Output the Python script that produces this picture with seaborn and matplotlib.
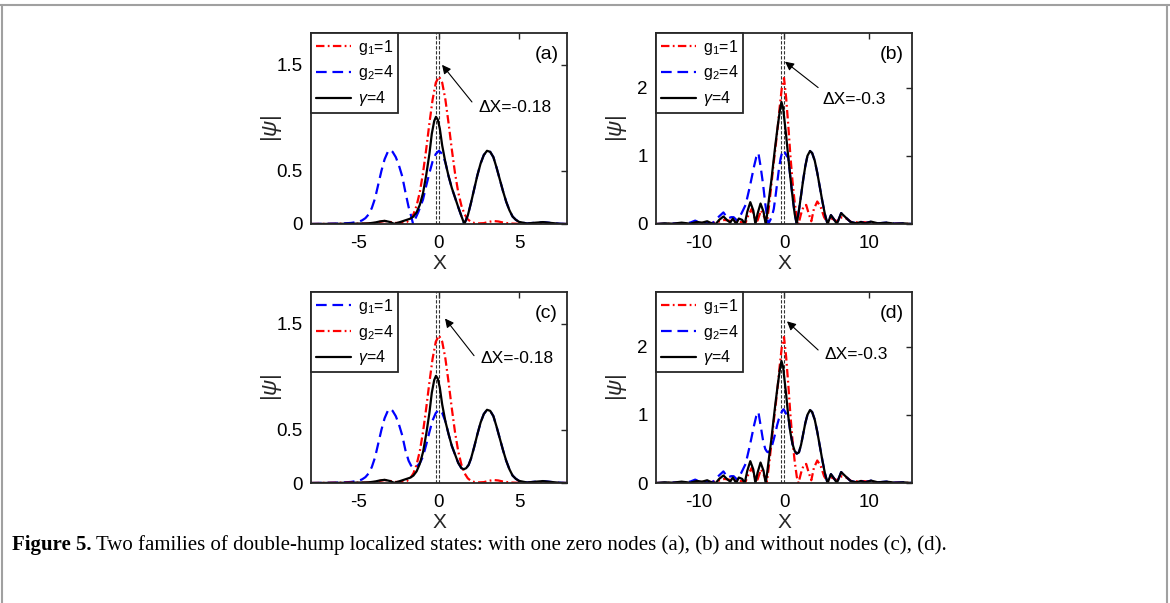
import matplotlib

matplotlib.use("Agg")
import matplotlib.pyplot as plt
import numpy as np
import seaborn as sns
from matplotlib.lines import Line2D

# ---- panel (a): one zero node, narrow window ----
a_red_x = [-8, -6.5, -5.5, -4.6, -4.0, -3.7, -3.4, -3.1, -2.8, -2.5, -2.2, -2.0, -1.8, -1.6, -1.4,
           -1.2, -1.0, -0.8, -0.6, -0.4, -0.2, 0.0, 0.2, 0.4, 0.6, 0.8, 1.0, 1.2, 1.4, 1.6,
           1.8, 2.0, 2.2, 2.5, 2.8, 3.1, 3.4, 3.7, 4.0, 4.4, 5.0, 6.0, 7.0, 8.0]
a_red_y = [0, 0.002, 0.004, 0.003, 0.01, 0.02, 0.028, 0.022, 0.01, 0.01, 0.012, 0.02, 0.044, 0.091, 0.173,
           0.300, 0.480, 0.704, 0.948, 1.172, 1.332, 1.39, 1.332, 1.172, 0.948, 0.704, 0.480, 0.300, 0.173, 0.091,
           0.044, 0.020, 0.010, 0.006, 0.008, 0.02, 0.028, 0.024, 0.014, 0.005, 0.002, 0.002, 0.0, 0.0]

a_blk_x = [-8, -6.0, -5.0, -4.4, -4.0, -3.7, -3.4, -3.1, -2.8, -2.5, -2.2, -2.0, -1.8, -1.6, -1.4,
           -1.2, -1.0, -0.8, -0.6, -0.45, -0.3, -0.19, -0.08, 0.05, 0.2, 0.4, 0.6, 0.8, 1.0, 1.2,
           1.4, 1.58, 1.8, 2.0, 2.2, 2.4, 2.6, 2.8, 3.0, 3.2, 3.4, 3.6, 3.8, 4.0, 4.2,
           4.4, 4.6, 4.8, 5.0, 5.5, 6.0, 6.5, 7.0, 7.5, 8.0]
a_blk_y = [0, 0.002, 0.004, 0.006, 0.014, 0.024, 0.03, 0.02, 0.002, 0.015, 0.03, 0.04, 0.05, 0.07, 0.11,
           0.18, 0.29, 0.46, 0.66, 0.85, 0.97, 1.01, 0.985, 0.90, 0.74, 0.58, 0.45, 0.34, 0.25, 0.16,
           0.075, 0.0, 0.08, 0.2, 0.33, 0.46, 0.57, 0.65, 0.69, 0.68, 0.63, 0.53, 0.42, 0.31, 0.21,
           0.13, 0.07, 0.04, 0.02, 0.005, 0.012, 0.018, 0.01, 0.003, 0.0]

# blue runs on its own up to x=0.4, afterwards it lies under the black curve
a_blu_x = [-8, -7, -6, -5.5, -5.0, -4.8, -4.6, -4.4, -4.2, -4.0, -3.8, -3.6, -3.4, -3.2, -3.05,
           -2.9, -2.7, -2.5, -2.3, -2.1, -1.9, -1.75, -1.62, -1.45, -1.3, -1.15, -1.0, -0.8, -0.6, -0.4,
           -0.2, 0.0, 0.2, 0.4]
a_blu_y = [0, 0.002, 0.005, 0.01, 0.022, 0.035, 0.055, 0.09, 0.15, 0.24, 0.37, 0.50, 0.61, 0.68, 0.70,
           0.68, 0.63, 0.55, 0.45, 0.30, 0.16, 0.08, 0.0, 0.06, 0.11, 0.17, 0.23, 0.36, 0.48, 0.59,
           0.66, 0.69, 0.66, 0.58]

# ---- panel (c): no nodes, narrow window ----
c_red_x = a_red_x
c_red_y = a_red_y

c_blk_x = [-8, -6.0, -5.0, -4.4, -4.0, -3.7, -3.4, -3.1, -2.8, -2.5, -2.2, -2.0, -1.8, -1.6, -1.4,
           -1.2, -1.0, -0.8, -0.6, -0.45, -0.3, -0.19, -0.08, 0.05, 0.2, 0.4, 0.6, 0.8, 1.0, 1.2,
           1.4, 1.55, 1.7, 1.85, 2.0, 2.2, 2.4, 2.6, 2.8, 3.0, 3.2, 3.4, 3.6, 3.8, 4.0, 4.2,
           4.4, 4.6, 4.8, 5.0, 5.5, 6.0, 6.5, 7.0, 7.5, 8.0]
c_blk_y = [0, 0.002, 0.004, 0.006, 0.014, 0.024, 0.03, 0.02, 0.002, 0.015, 0.03, 0.04, 0.05, 0.07, 0.11,
           0.18, 0.29, 0.46, 0.66, 0.85, 0.97, 1.01, 0.985, 0.90, 0.74, 0.58, 0.46, 0.35, 0.27, 0.19,
           0.14, 0.13, 0.14, 0.17, 0.23, 0.34, 0.46, 0.57, 0.65, 0.69, 0.68, 0.63, 0.53, 0.42, 0.31, 0.21,
           0.13, 0.07, 0.04, 0.02, 0.005, 0.012, 0.018, 0.01, 0.003, 0.0]

c_blu_x = [-8, -7, -6, -5.5, -5.0, -4.8, -4.6, -4.4, -4.2, -4.0, -3.8, -3.6, -3.4, -3.2, -3.05,
           -2.9, -2.7, -2.5, -2.3, -2.1, -1.9, -1.75, -1.62, -1.45, -1.3, -1.15, -1.0, -0.8, -0.6, -0.4,
           -0.2, 0.0, 0.2, 0.4]
c_blu_y = [0, 0.002, 0.005, 0.01, 0.022, 0.035, 0.055, 0.09, 0.15, 0.24, 0.37, 0.50, 0.61, 0.68, 0.70,
           0.68, 0.63, 0.55, 0.45, 0.31, 0.21, 0.165, 0.145, 0.15, 0.17, 0.20, 0.25, 0.36, 0.48, 0.59,
           0.66, 0.69, 0.66, 0.58]

# ---- panel (b): one zero node, wide window ----
b_red_x = [-15, -12, -10, -9, -8, -7, -6, -5.2, -4.5, -4.2, -3.8, -3.4, -3.1, -2.7, -2.3,
           -2.0, -1.75, -1.5, -1.25, -1.0, -0.75, -0.5, -0.25, 0.0, 0.25, 0.5, 0.75, 1.0, 1.25, 1.5,
           1.7, 2.0, 2.3, 2.6, 2.9, 3.2, 3.5, 3.9, 4.3, 4.7, 5.1, 5.6, 6.2, 6.8, 7.3,
           8.0, 9.0, 10.0, 11.0, 12.0, 15.0]
b_red_y = [0, 0.005, 0.02, 0.01, 0.02, 0.06, 0.04, 0.03, 0.02, 0.12, 0.22, 0.08, 0.05, 0.2, 0.1,
           0.02, 0.27, 0.55, 0.85, 1.12, 1.40, 1.72, 2.0, 2.14, 1.85, 1.45, 1.0, 0.62, 0.32, 0.09,
           0.0, 0.15, 0.26, 0.28, 0.15, 0.04, 0.22, 0.33, 0.25, 0.1, 0.02, 0.08, 0.04, 0.1, 0.08,
           0.02, 0.03, 0.02, 0.01, 0.01, 0.0]

b_blk_x = [-15, -14, -13, -12, -11, -10.2, -9.6, -9.0, -8.5, -8.0, -7.6, -7.1, -6.7, -6.3, -6.0,
           -5.6, -5.3, -4.9, -4.6, -4.3, -3.95, -3.6, -3.35, -3.1, -2.75, -2.4, -2.15, -2.0, -1.75, -1.5,
           -1.25, -1.0, -0.75, -0.5, -0.3, -0.1, 0.0, 0.25, 0.5, 0.75, 1.0, 1.25, 1.49, 1.75, 2.0,
           2.25, 2.5, 2.75, 3.05, 3.3, 3.6, 3.9, 4.2, 4.5, 4.8, 5.1, 5.5, 5.85, 6.2, 6.7,
           7.2, 7.8, 8.5, 9.0, 9.5, 10.2, 11.0, 12.0, 13.0, 14.0, 15.0]
b_blk_y = [0, 0.01, 0.005, 0.02, 0.005, 0.03, 0.02, 0.04, 0.01, 0.0, 0.06, 0.11, 0.06, 0.02, 0.08,
           0.0, 0.08, 0.06, 0.0, 0.18, 0.32, 0.2, 0.0, 0.15, 0.3, 0.18, 0.0, 0.12, 0.38, 0.62,
           0.9, 1.17, 1.42, 1.65, 1.79, 1.7, 1.58, 1.3, 0.98, 0.68, 0.4, 0.15, 0.0, 0.2, 0.42,
           0.65, 0.85, 1.0, 1.07, 1.04, 0.93, 0.75, 0.54, 0.33, 0.14, 0.0, 0.13, 0.07, 0.0, 0.16,
           0.1, 0.03, 0.01, 0.03, 0.01, 0.035, 0.01, 0.02, 0.005, 0.01, 0.0]

b_blu_x = [-15, -12, -11, -10.4, -9.8, -9.0, -8.4, -7.7, -7.1, -6.6, -6.2, -5.9, -5.5, -5.0, -4.5,
           -4.0, -3.5, -3.25, -3.0, -2.75, -2.45, -2.2, -2.0, -1.85, -1.6, -1.4, -1.2, -1.0, -0.8, -0.6,
           -0.4, -0.2, -0.05, 0.15, 0.35]
b_blu_y = [0, 0.01, 0.02, 0.05, 0.01, 0.02, 0.01, 0.1, 0.17, 0.08, 0.1, 0.1, 0.05, 0.15, 0.28,
           0.55, 0.85, 0.98, 1.04, 0.85, 0.58, 0.3, 0.12, 0.0, 0.06, 0.12, 0.22, 0.4, 0.6, 0.8,
           0.96, 1.06, 1.08, 1.04, 0.99]

# ---- panel (d): no nodes, wide window ----
d_red_x = b_red_x
d_red_y = b_red_y

d_blk_x = b_blk_x
d_blk_y = [0, 0.01, 0.005, 0.02, 0.005, 0.03, 0.02, 0.04, 0.01, 0.0, 0.06, 0.11, 0.06, 0.02, 0.08,
           0.0, 0.08, 0.06, 0.0, 0.18, 0.32, 0.2, 0.0, 0.15, 0.3, 0.18, 0.0, 0.12, 0.38, 0.62,
           0.9, 1.17, 1.42, 1.65, 1.79, 1.7, 1.58, 1.3, 0.98, 0.74, 0.57, 0.47, 0.43, 0.45, 0.56,
           0.72, 0.88, 1.0, 1.07, 1.04, 0.93, 0.75, 0.54, 0.33, 0.14, 0.0, 0.13, 0.07, 0.0, 0.16,
           0.1, 0.03, 0.01, 0.03, 0.01, 0.035, 0.01, 0.02, 0.005, 0.01, 0.0]

d_blu_x = b_blu_x
d_blu_y = [0, 0.01, 0.02, 0.05, 0.01, 0.02, 0.01, 0.1, 0.17, 0.08, 0.1, 0.1, 0.05, 0.15, 0.28,
           0.55, 0.85, 0.98, 1.04, 0.85, 0.62, 0.5, 0.46, 0.45, 0.48, 0.55, 0.64, 0.74, 0.85, 0.94,
           1.0, 1.06, 1.08, 1.04, 0.99]

RED = "#ff0000"
BLUE = "#0000ff"
INK = "#262626"
DASHDOT = (0, (3.8, 1.5, 0.8, 1.5))
DASHED = (0, (4.8, 2.6))

sns.set_theme(style="white")
plt.rcParams["font.family"] = ["Liberation Sans", "DejaVu Sans"]
plt.rcParams["mathtext.fontset"] = "custom"
plt.rcParams["mathtext.rm"] = "Liberation Sans"
plt.rcParams["mathtext.it"] = "Liberation Sans:italic"
plt.rcParams["axes.edgecolor"] = INK
plt.rcParams["axes.linewidth"] = 1.3


def merge_blue(bx, by, kx, ky, x0):
    # blue coincides with black to the right of x0
    kx = np.asarray(kx, dtype=float)
    ky = np.asarray(ky, dtype=float)
    keep = kx > x0
    return np.r_[bx, kx[keep]], np.r_[by, ky[keep]]


def draw_panel(ax, curves, xlim, ylim, xticks, yticks, ytick_labels, tag, shift, text_xy, tail, head):
    for x, y, color, ls, lab in curves:
        sns.lineplot(x=np.asarray(x, dtype=float), y=np.asarray(y, dtype=float), ax=ax, color=color,
                     linestyle=ls, linewidth=1.6, label=lab, sort=False, estimator=None)
    for xv in (shift, 0.0):
        ax.axvline(xv, color="#333333", linestyle=(0, (3, 1.5)), linewidth=0.8, zorder=1)
    ax.annotate("", xy=head, xytext=tail,
                arrowprops=dict(arrowstyle="-|>", color="black", lw=0.8, mutation_scale=13, shrinkA=0, shrinkB=0))
    ax.text(text_xy[0], text_xy[1], f"\u0394X={shift:g}", ha="left", va="center", fontsize=12.5, color="black")
    ax.text(0.92, 0.89, tag, transform=ax.transAxes, ha="center", va="center", fontsize=14, color="black")
    ax.set_xlim(*xlim)
    ax.set_ylim(*ylim)
    ax.set_xticks(xticks)
    ax.set_xticklabels([f"{t:g}" for t in xticks])
    ax.set_yticks(yticks)
    ax.set_yticklabels(ytick_labels)
    ax.tick_params(direction="in", top=True, right=True, length=4, width=1.0, labelsize=13.5,
                   colors=INK, pad=5)
    ax.tick_params(axis="x", labelcolor="black", pad=8)
    ax.tick_params(axis="y", labelcolor="black", pad=6)
    ax.set_xlabel("X", fontsize=15, va="center")
    ax.xaxis.set_label_coords(0.5, -0.205)
    ax.set_ylabel(r"|$\psi$|", fontsize=16, va="center")
    ax.yaxis.set_label_coords(-0.155, 0.5)
    for side in ("top", "right", "bottom", "left"):
        ax.spines[side].set_visible(True)
        ax.spines[side].set_color(INK)
        ax.spines[side].set_linewidth(1.3)
    leg = ax.legend(loc="upper left", borderaxespad=0, fancybox=False, edgecolor=INK, framealpha=1,
                    fontsize=11.5, handlelength=2.2, handletextpad=0.45, labelspacing=0.42, borderpad=0.3)
    leg.get_frame().set_linewidth(1.3)
    for txt in leg.get_texts():
        txt.set_color("black")


fig = plt.figure(figsize=(11.7, 6.03), dpi=100)
W, H = 1170, 603
ax_a = fig.add_axes([311 / W, 1 - 224 / H, 256 / W, 191 / H])
ax_b = fig.add_axes([656 / W, 1 - 224 / H, 256 / W, 191 / H])
ax_c = fig.add_axes([311 / W, 1 - 483 / H, 256 / W, 191 / H])
ax_d = fig.add_axes([656 / W, 1 - 483 / H, 256 / W, 191 / H])

g1 = "g$_1$=1"
g2 = "g$_2$=4"
gam = r"$\gamma$=4"

ax_, ay_ = merge_blue(a_blu_x, a_blu_y, a_blk_x, a_blk_y, 0.5)
draw_panel(ax_a,
           [(a_red_x, a_red_y, RED, DASHDOT, g1), (ax_, ay_, BLUE, DASHED, g2), (a_blk_x, a_blk_y, "black", "-", gam)],
           (-8, 8), (0, 1.8), [-5, 0, 5], [0, 0.5, 1.5], ["0", "0.5", "1.5"], "(a)", -0.18,
           (2.44, 1.10), (2.06, 1.15), (0.19, 1.5))

bx_, by_ = merge_blue(b_blu_x, b_blu_y, b_blk_x, b_blk_y, 0.4)
draw_panel(ax_b,
           [(b_red_x, b_red_y, RED, DASHDOT, g1), (bx_, by_, BLUE, DASHED, g2), (b_blk_x, b_blk_y, "black", "-", gam)],
           (-15, 15), (0, 2.8), [-10, 0, 10], [0, 1, 2], ["0", "1", "2"], "(b)", -0.3,
           (4.57, 1.82), (4.0, 2.0), (0.12, 2.38))

cx_, cy_ = merge_blue(c_blu_x, c_blu_y, c_blk_x, c_blk_y, 0.5)
draw_panel(ax_c,
           [(cx_, cy_, BLUE, DASHED, g1), (c_red_x, c_red_y, RED, DASHDOT, g2), (c_blk_x, c_blk_y, "black", "-", gam)],
           (-8, 8), (0, 1.8), [-5, 0, 5], [0, 0.5, 1.5], ["0", "0.5", "1.5"], "(c)", -0.18,
           (2.62, 1.17), (2.19, 1.2), (0.375, 1.55))

dx_, dy_ = merge_blue(d_blu_x, d_blu_y, d_blk_x, d_blk_y, 0.4)
draw_panel(ax_d,
           [(d_red_x, d_red_y, RED, DASHDOT, g1), (dx_, dy_, BLUE, DASHED, g2), (d_blk_x, d_blk_y, "black", "-", gam)],
           (-15, 15), (0, 2.8), [-10, 0, 10], [0, 1, 2], ["0", "1", "2"], "(d)", -0.3,
           (4.8, 1.89), (4.0, 1.95), (0.35, 2.37))

# page frame lines
frame_kw = dict(color="#a0a0a0", linewidth=1.5, transform=fig.transFigure)
fig.add_artist(Line2D([0, 1], [1 - 5 / H, 1 - 5 / H], **frame_kw))
fig.add_artist(Line2D([1.5 / W, 1.5 / W], [0, 1 - 5 / H], **frame_kw))
fig.add_artist(Line2D([1167 / W, 1167 / W], [0, 1 - 5 / H], **frame_kw))

# caption
cap_y = 1 - 545 / H
bold = fig.text(12 / W, cap_y, "Figure 5.", family="Liberation Serif", weight="bold", fontsize=15,
                va="center", ha="left", color="black")
fig.canvas.draw()
bb = bold.get_window_extent(renderer=fig.canvas.get_renderer())
fig.text((bb.x1 + 4) / W, cap_y,
         "Two families of double-hump localized states: with one zero nodes (a), (b) and without nodes (c), (d).",
         family="Liberation Serif", fontsize=15, va="center", ha="left", color="black")

fig.savefig("out.png", dpi=100, facecolor="white")
